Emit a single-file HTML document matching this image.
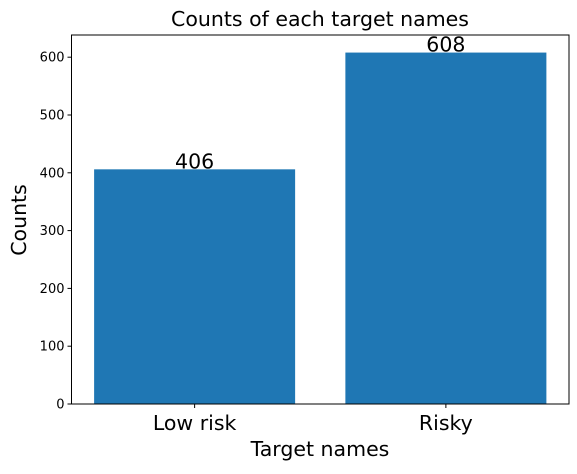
<!DOCTYPE html>
<html><head><meta charset="utf-8"><style>
body{margin:0;background:#fff;}
svg text{font-family:"DejaVu Sans","Liberation Sans",sans-serif;}
</style></head><body>
<svg id="chart" width="577" height="469" xmlns="http://www.w3.org/2000/svg">
<text x="320" y="26" font-size="20.5" text-anchor="middle">Counts of each target names</text>
<g id="bars"></g>
<g id="yticks"></g>
<g id="xticks"></g>
<rect x="71.5" y="35" width="497.5" height="369" fill="none" stroke="#000" stroke-width="1"/>
<text x="320" y="456" font-size="20.5" text-anchor="middle">Target names</text>
<text transform="translate(26,220) rotate(-90)" font-size="20.5" text-anchor="middle">Counts</text>
</svg>
<script>
const categories=["Low risk","Risky"];
const values=[406,608];
const yTicks=[0,100,200,300,400,500,600];
const L=71.5,R=569,T=35,B=404;
const ymax=Math.max(...values)*1.05;
const xmin=-0.49,xmax=categories.length-1+0.49;
const xs=i=>L+(i-xmin)/(xmax-xmin)*(R-L);
const ys=v=>B-v/ymax*(B-T);
const NS="http://www.w3.org/2000/svg";
const bars=document.getElementById('bars'),yt=document.getElementById('yticks'),xt=document.getElementById('xticks');
const bw=0.8*(R-L)/(xmax-xmin);
values.forEach((v,i)=>{
 const r=document.createElementNS(NS,'rect');
 r.setAttribute('x',xs(i)-bw/2);r.setAttribute('y',ys(v));r.setAttribute('width',bw);r.setAttribute('height',B-ys(v));r.setAttribute('fill','#1f77b4');
 
 
 bars.appendChild(r);
 const t=document.createElementNS(NS,'text');
 t.setAttribute('x',xs(i));t.setAttribute('y',ys(v)-1);t.setAttribute('font-size','20.5');t.setAttribute('text-anchor','middle');t.textContent=v;
 
 
 bars.appendChild(t);
 const l=document.createElementNS(NS,'line');
 l.setAttribute('x1',xs(i));l.setAttribute('x2',xs(i));l.setAttribute('y1',B);l.setAttribute('y2',B+4);l.setAttribute('stroke','#000');
 
 
 xt.appendChild(l);
 const xl=document.createElementNS(NS,'text');
 xl.setAttribute('x',xs(i));xl.setAttribute('y',B+26);xl.setAttribute('font-size','20.5');xl.setAttribute('text-anchor','middle');xl.textContent=categories[i];
 
 
 xt.appendChild(xl);
});
yTicks.forEach(v=>{
 const l=document.createElementNS(NS,'line');
 l.setAttribute('x1',L-4);l.setAttribute('x2',L);l.setAttribute('y1',ys(v));l.setAttribute('y2',ys(v));l.setAttribute('stroke','#000');
 
 
 yt.appendChild(l);
 const t=document.createElementNS(NS,'text');
 t.setAttribute('x',L-7);t.setAttribute('y',ys(v)+4.5);t.setAttribute('font-size','13');t.setAttribute('text-anchor','end');t.textContent=v;
 
 
 yt.appendChild(t);
});
</script>
</body></html>
